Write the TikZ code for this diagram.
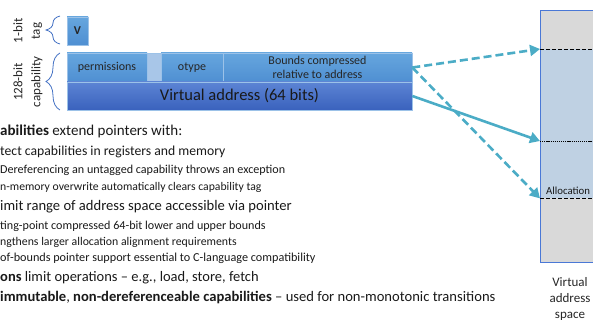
\documentclass[tikz,border=0pt]{standalone}
\usepackage{fontspec}
\setmainfont{Carlito}
\usetikzlibrary{arrows.meta,decorations.pathreplacing}

\definecolor{fieldtop}{HTML}{66A6DE}
\definecolor{fieldbot}{HTML}{4F8FD2}
\definecolor{addrtop}{HTML}{5C84D4}
\definecolor{addrbot}{HTML}{3A62BD}
\definecolor{cellline}{HTML}{9CC2E8}
\definecolor{gapcell}{HTML}{A8C6E8}
\definecolor{bracecol}{HTML}{4472C4}
\definecolor{ptrcol}{HTML}{4BACC6}
\definecolor{memgray}{HTML}{D9D9D9}
\definecolor{memblue}{HTML}{BFD1E3}
\definecolor{memedge}{HTML}{4A78D6}

\tikzset{
  field/.style={draw=cellline, line width=0.6pt, top color=fieldtop, bottom color=fieldbot,
    inner sep=0pt, font=\fontsize{12}{13.5}\selectfont, text=black!85, align=center},
  addrfield/.style={draw=cellline, line width=0.6pt, top color=addrtop, bottom color=addrbot,
    inner sep=0pt, font=\fontsize{16.5}{19}\selectfont, text=black!90},
  region/.style={anchor=north west, inner sep=0pt, minimum width=80},
  sidelabel/.style={rotate=90, font=\fontsize{13}{14}\selectfont, text=black!85},
  bracket/.style={draw=bracecol, line width=0.8pt, decorate,
    decoration={brace, amplitude=14pt}},
  ptr/.style={draw=ptrcol, line width=2.6pt, -{Triangle[length=10pt,width=11pt]}},
  ptrdash/.style={ptr, dash pattern=on 8pt off 4pt},
  textline/.style={anchor=west, inner sep=0pt, text=black!90, font=\fontsize{#1}{#1}\selectfont},
  boundary/.style={draw=black, line width=0.9pt, dash pattern=on 4pt off 2pt},
}

\begin{document}
\begin{tikzpicture}[x=1pt, y=-1pt]
\clip (0,0) rectangle (593,320);

% tag bit and capability word
\node[field, minimum width=21, minimum height=28] (tag) at (77.5,31) {\bfseries V};
\node[field, minimum width=80, minimum height=29] (perm) at (107,67.5) {permissions};
\node[draw=cellline, line width=0.6pt, fill=gapcell, minimum width=14, minimum height=29, inner sep=0pt] (resv) at (154,67.5) {};
\node[field, minimum width=62, minimum height=29] (otype) at (192,67.5) {otype};
\node[field, minimum width=189, minimum height=29] (bounds) at (317.5,67.5)
  {Bounds compressed\\relative to address};
\node[addrfield, minimum width=345, minimum height=28] (vaddr) at (239.5,96) {Virtual address (64 bits)};

% side braces and their labels
\draw[bracket] (60,44) -- (60,16);
\draw[bracket] (60,110) -- (60,53);
\node[sidelabel] (taglab1) at (18,31) {1-bit};
\node[sidelabel] (taglab2) at (37,31) {tag};
\node[sidelabel] (caplab1) at (18,82) {128-bit};
\node[sidelabel] (caplab2) at (37,82) {capability};

% virtual address space column
\node[region, fill=memgray, minimum height=39] (above) at (540,10) {};
\node[region, fill=memblue, minimum height=149] (alloc) at (540,49) {};
\node[region, fill=memgray, minimum height=64] (below) at (540,198) {};
\draw[memedge, line width=0.9pt] (above.north east) -- (above.north west) -- (below.south west) -- (below.south east);
\draw[boundary] (alloc.north west) -- (alloc.north east);
\draw[boundary] (alloc.south west) -- (alloc.south east);
\coordinate (cursor) at (540,141);
\coordinate (cursorend) at (620,141);
\draw[black, line width=0.8pt, dash pattern=on 1.2pt off 0.9pt] (cursor) -- (cursorend);
\node[anchor=south west, inner sep=0pt, font=\fontsize{10.8}{12}\selectfont, text=black!90] (alloclab) at (546,195) {Allocation};
\node[align=center, inner sep=0pt, font=\fontsize{13}{16}\selectfont, text=black!85] (vaslab) at (570,299) {Virtual\\address\\space};

% pointers from the capability into memory
\draw[ptrdash] (bounds.east) -- (alloc.north west);
\draw[ptrdash] (bounds.east) -- (alloc.south west);
\draw[ptr] (vaddr.east) -- (cursor);

% description
\node[textline=15] (l1) at (0,131) {\bfseries abilities\mdseries{} extend pointers with:};
\node[textline=13.7] (l2) at (0,152) {tect capabilities in registers and memory};
\node[textline=12.1] (l3) at (0,170) {Dereferencing an untagged capability throws an exception};
\node[textline=11.7] (l4) at (0,187) {n-memory overwrite automatically clears capability tag};
\node[textline=14.6] (l5) at (0,207) {imit range of address space accessible via pointer};
\node[textline=12.1] (l6) at (0,226) {ting-point compressed 64-bit lower and upper bounds};
\node[textline=11.8] (l7) at (0,242) {ngthens larger allocation alignment requirements};
\node[textline=12.2] (l8) at (0,258) {of-bounds pointer support essential to C-language compatibility};
\node[textline=14.5] (l9) at (0,278) {\bfseries ons\mdseries{} limit operations -- e.g., load, store, fetch};
\node[textline=14.6] (l10) at (0,298) {\bfseries immutable\mdseries, \bfseries non-dereferenceable capabilities\mdseries{} -- used for non-monotonic transitions};
\end{tikzpicture}
\end{document}
